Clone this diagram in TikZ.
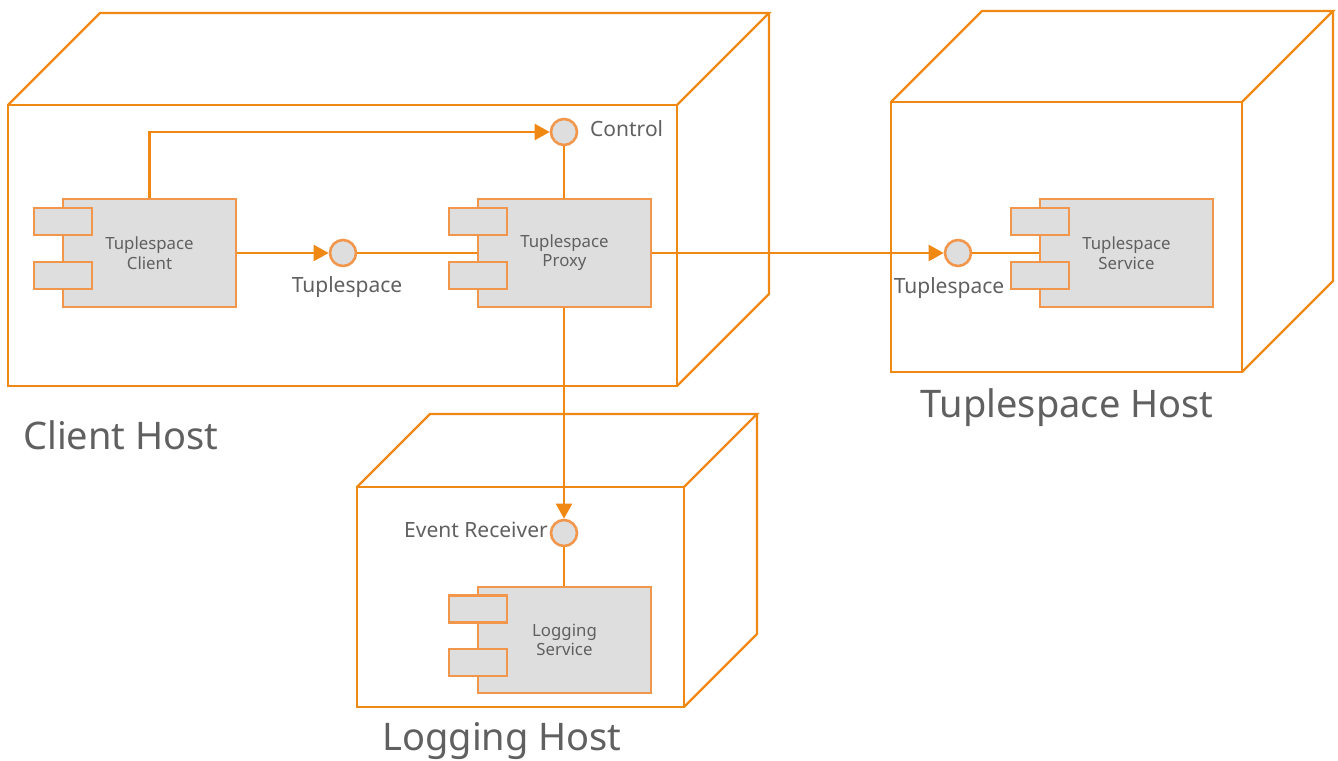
\documentclass[tikz,border=0pt]{standalone}
\usepackage{fontspec}
\setmainfont{Noto Sans}
\usetikzlibrary{arrows.meta}
\definecolor{edge}{RGB}{240,136,20}
\definecolor{compedge}{RGB}{241,150,75}
\definecolor{compfill}{RGB}{222,222,222}
\definecolor{txt}{RGB}{96,96,96}
\tikzset{
  host/.style={draw=edge, line width=2.2pt, line join=miter},
  comp/.style={draw=compedge, fill=compfill, line width=2.8pt, minimum width=173pt, minimum height=108pt,
    inner sep=0pt, align=center, font=\fontsize{16.8}{21}\selectfont, text=txt},
  port/.style={draw=compedge, fill=compfill, line width=2.8pt, minimum width=58pt, minimum height=27pt, inner sep=0pt},
  iface/.style={circle, draw=compedge, fill=compfill, line width=2.6pt, minimum size=26pt, inner sep=0pt},
  lbl/.style={text=txt, font=\fontsize{21}{25}\selectfont, inner sep=0pt},
  biglbl/.style={text=txt, font=\fontsize{38}{44}\selectfont, inner sep=0pt},
  conn/.style={draw=edge, line width=2.2pt},
  arr/.style={conn, -{Triangle[length=15pt,width=16pt]}},
}
\newcommand{\hostbox}[5]{% x1,y1,x2,y2,depth
  \draw[host] (#1,#2) rectangle (#3,#4);
  \draw[host] (#1,#2) -- ++(#5,-#5) -- ++(#3-#1,0) -- (#3,#2);
  \draw[host] (#3+#5,#2-#5) -- (#3+#5,#4-#5) -- (#3,#4);
}
\begin{document}
\begin{tikzpicture}[x=1pt,y=-1pt]
\useasboundingbox (0,0) rectangle (1338,760);

% hosts
\hostbox{8}{105}{677}{386}{92}
\hostbox{891}{102}{1242}{372}{91}
\hostbox{357}{487}{684}{707}{73}

\node[biglbl, anchor=west] (clienthost) at (23,435) {Client Host};
\node[biglbl] (tshost) at (1067,408) {Tuplespace Host};
\node[biglbl] (loghost) at (502,741) {Logging Host};

% components
\node[comp] (client) at (149.5,253) {\raisebox{-2pt}{\shortstack{Tuplespace\\Client}}};
\node[port] (clientp1) at (63,221.5) {};
\node[port] (clientp2) at (63,275.5) {};

\node[comp] (proxy) at (564.5,253) {\raisebox{-2pt}{\shortstack{Tuplespace\\Proxy}}};
\node[port] (proxyp1) at (478,221.5) {};
\node[port] (proxyp2) at (478,275.5) {};

\node[comp] (service) at (1126.5,253) {\raisebox{-2pt}{\shortstack{Tuplespace\\Service}}};
\node[port] (servicep1) at (1040,221.5) {};
\node[port] (servicep2) at (1040,275.5) {};

\node[comp, minimum height=106pt] (logging) at (564.5,640) {\raisebox{-2pt}{\shortstack{Logging\\Service}}};
\node[port] (loggingp1) at (478,609) {};
\node[port] (loggingp2) at (478,662.5) {};

% interfaces
\node[iface] (tsc) at (343,253) {};
\node[iface] (ctl) at (564,132) {};
\node[iface] (tss) at (958,253) {};
\node[iface] (evr) at (564,533) {};

\node[lbl] (tscl) at (347,287) {Tuplespace};
\node[lbl, anchor=west] (ctll) at (590,129) {Control};
\node[lbl] (tssl) at (949,288) {Tuplespace};
\node[lbl, anchor=east] (evrl) at (548,530) {Event Receiver};

% connectors
\draw[arr] (client.north) |- (ctl.west);
\draw[conn] (ctl.south) -- (ctl.south |- proxy.north);
\draw[arr] (client.east) -- (tsc.west);
\draw[conn] (tsc.east) -- (proxy.west);
\draw[arr] (proxy.east) -- (tss.west);
\draw[conn] (tss.east) -- (service.west);
\draw[arr] (evr.north |- proxy.south) -- (evr.north);
\draw[conn] (evr.south) -- (evr.south |- logging.north);
\end{tikzpicture}
\end{document}
